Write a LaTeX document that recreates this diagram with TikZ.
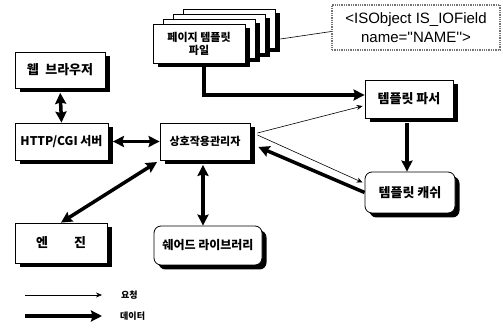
\documentclass[tikz,border=0pt]{standalone}
\usepackage{fontspec}
\setmainfont{Noto Sans CJK KR}
\newfontfamily\lat{Liberation Sans}
\usetikzlibrary{arrows.meta,shadows}
\begin{document}
\begin{tikzpicture}[x=1pt,y=-1pt,
  box/.style={draw=black, line width=0.8pt, fill=white, inner sep=0pt,
    drop shadow={shadow xshift=4.5pt,shadow yshift=-4.5pt,opacity=1,fill=black},
    font=\bfseries\fontsize{13}{15}\selectfont, align=center},
  rbox/.style={box, rounded corners=7pt},
  dbl/.style={line width=3.5pt, {Stealth[length=11pt,width=11pt,inset=1.5pt]}-{Stealth[length=11pt,width=11pt,inset=1.5pt]}},
  sgl/.style={line width=3.5pt, -{Stealth[length=11pt,width=11pt,inset=1.5pt]}},
  thin/.style={line width=0.6pt, -{Stealth[length=6pt,width=5pt]}},
  legend/.style={font=\bfseries\fontsize{9}{10}\selectfont, inner sep=0pt}
]
\useasboundingbox[fill=white] (0,0) rectangle (503,328);

% nodes
\node[box, minimum width=90pt, minimum height=36pt] (web) at (60,70) {웹\hspace{0.5em}브라우저};
\node[box, minimum width=93pt, minimum height=37pt, font=\bfseries\fontsize{12}{14}\selectfont] (http) at (61.5,141.5) {HTTP/CGI 서버};
\node[box, minimum width=90pt, minimum height=37pt, font=\bfseries\fontsize{11}{13}\selectfont] (mgr) at (205,141.5) {상호작용관리자};
\node[box, minimum width=92pt, minimum height=40pt] (engine) at (61,243) {엔\hspace{2em}진};
\node[rbox, minimum width=108pt, minimum height=39pt, font=\bfseries\fontsize{12}{14}\selectfont] (shlib) at (208,245.5) {쉐어드 라이브러리};

\node[box, minimum width=92pt, minimum height=39pt] (file3) at (229,28.5) {};
\node[box, minimum width=92pt, minimum height=39pt] (file2) at (219,33.5) {};
\node[box, minimum width=92pt, minimum height=39pt] (file1) at (209,38.5) {};
\node[box, minimum width=92pt, minimum height=39pt, font=\bfseries\fontsize{11}{13}\selectfont] (file) at (199,43.5) {페이지 템플릿\\파일};

\node[draw=black!55, densely dotted, line width=1.3pt, fill=white, minimum width=168pt, minimum height=45pt, inner sep=0pt, align=center,
  font=\lat\fontsize{15}{19}\selectfont] (isobj) at (416,27.5) {<ISObject IS\_IOField\\name=''NAME''>};

\node[box, minimum width=88pt, minimum height=38pt] (parser) at (409,99) {템플릿 파서};
\node[rbox, minimum width=90pt, minimum height=41pt] (cache) at (410,192.5) {템플릿 캐쉬};

% connectors
\draw[dbl, shorten <=4.5pt] (web.south) -- (http.north);
\draw[dbl, shorten <=4.5pt] (http.east) -- (mgr.west);
\draw[dbl, shorten >=3pt] (engine.north) -- (mgr.south west);
\draw[dbl, shorten <=4.5pt] ([xshift=-2pt]mgr.south) -- ([xshift=-2pt]mgr.south |- shlib.north);
\draw[sgl] ([xshift=5pt]file.south) |- ([yshift=4pt]parser.west);
\draw[line width=0.6pt] ([shift={(5pt,-10.5pt)}]file3.east) -- ([yshift=-4pt]isobj.west);
\draw[sgl, shorten <=4.5pt] ([xshift=-2pt]parser.south) -- ([xshift=-3pt]cache.north);
\draw[thin] ([shift={(7pt,8.5pt)}]mgr.east) -- ([shift={(-2pt,-7pt)}]parser.west);
\draw[thin] ([shift={(7pt,6.5pt)}]mgr.east) -- ([shift={(-2pt,10pt)}]cache.west);
\draw[sgl] (cache.west) -- ([shift={(8pt,-5.5pt)}]mgr.east);

% legend
\coordinate (l1a) at (25,295);
\coordinate (l1b) at (102,295);
\coordinate (l2a) at (25,316);
\coordinate (l2b) at (102,316);
\node[legend, anchor=west] (l1t) at (121,295) {요청};
\node[legend, anchor=west] (l2t) at (120,316) {데이터};
\draw[thin] (l1a) -- (l1b);
\draw[sgl] (l2a) -- (l2b);
\end{tikzpicture}
\end{document}
